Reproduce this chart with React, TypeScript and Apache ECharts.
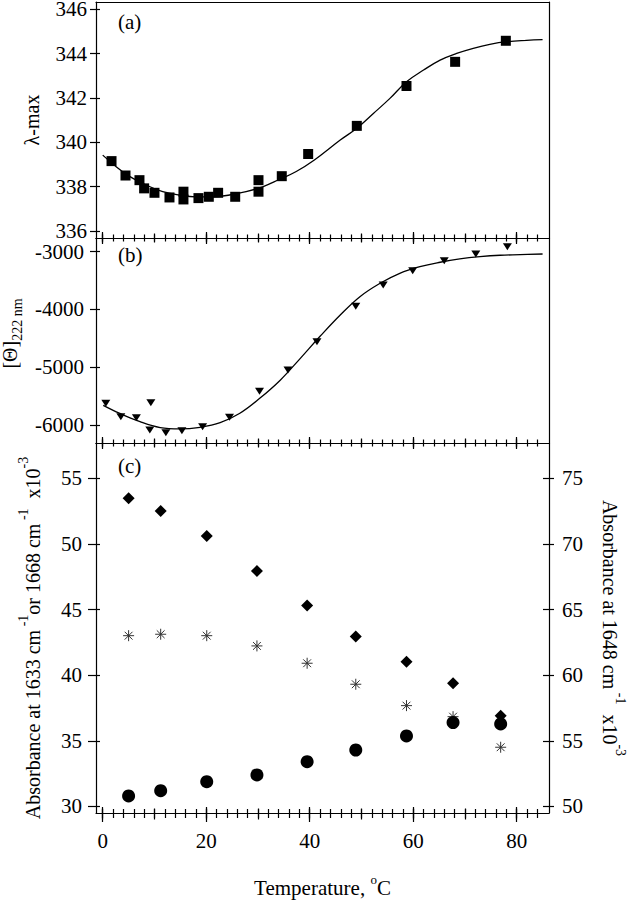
import React, { useEffect, useRef } from 'react';
import * as echarts from 'echarts';

// ---------- data ----------
// panel (a): lambda-max vs temperature
const tempA = [1.7, 4.4, 7.1, 8.0, 10.0, 12.9, 15.6, 15.6, 18.5, 20.5, 22.3, 25.6, 30.1, 30.1, 34.6, 39.7, 49.1, 58.7, 68.1, 77.9];
const lambdaA = [339.15, 338.5, 338.29, 337.92, 337.72, 337.51, 337.77, 337.42, 337.48, 337.54, 337.72, 337.54, 338.29, 337.77, 338.47, 339.47, 340.74, 342.54, 343.63, 344.58];
const fitTempA = [0, 2.6, 5.1, 8.4, 11.6, 14.8, 18.0, 21.3, 24.5, 27.7, 30.9, 34.1, 37.4, 40.9, 45.9, 49.1, 52.3, 55.5, 58.7, 62.0, 65.2, 68.4, 71.6, 74.8, 78.1, 81.9, 85.0];
const fitLambdaA = [339.42, 338.9, 338.47, 338.07, 337.77, 337.62, 337.54, 337.54, 337.62, 337.77, 337.99, 338.32, 338.68, 339.2, 340.1, 340.63, 341.3, 341.98, 342.73, 343.26, 343.71, 344.01, 344.24, 344.42, 344.54, 344.6, 344.63];

// panel (b): [Theta]222nm vs temperature
const tempB = [0.6, 3.5, 6.5, 9.3, 9.1, 12.2, 15.3, 19.3, 24.5, 30.3, 35.8, 41.4, 48.9, 54.2, 59.9, 66.0, 72.1, 78.2];
const thetaB = [-5624, -5856, -5873, -5614, -6087, -6133, -6098, -6029, -5867, -5417, -5048, -4558, -3946, -3577, -3329, -3156, -3040, -2913];
const fitTempB = [0.1, 3.3, 7.2, 11.1, 14.9, 18.8, 22.7, 26.5, 30.4, 34.3, 38.1, 42.0, 45.9, 49.7, 53.6, 57.4, 61.3, 65.2, 69.0, 72.9, 76.8, 80.7, 85.0];
const fitThetaB = [-5660, -5800, -5943, -6045, -6069, -6040, -5960, -5798, -5535, -5225, -4855, -4465, -4096, -3779, -3547, -3374, -3260, -3183, -3126, -3087, -3062, -3052, -3040];

// panel (c): absorbances vs temperature
const tempC = [5.0, 11.2, 20.1, 29.8, 39.5, 48.9, 58.7, 67.7, 76.9];
const abs1648 = [73.48, 72.51, 70.6, 67.94, 65.3, 62.94, 61.03, 59.39, 56.9]; // right axis, diamonds
const abs1668 = [43.01, 43.12, 43.01, 42.23, 40.91, 39.31, 37.68, 36.84, 34.51]; // left axis, asterisks
const abs1633 = [30.8, 31.2, 31.89, 32.4, 33.41, 34.3, 35.37, 36.39, 36.29]; // left axis, circles

// ticks
const xMinorTicks = [0, 2, 4, 6, 8, 10, 12, 14, 16, 18, 20, 22, 24, 26, 28, 30, 32, 34, 36, 38, 40, 42, 44, 46, 48, 50, 52, 54, 56, 58, 60, 62, 64, 66, 68, 70, 72, 74, 76, 78, 80, 82, 84];
const xMediumTicks = [0, 10, 20, 30, 40, 50, 60, 70, 80];
const xMajorTicks = [0, 20, 40, 60, 80];
const yTicksA = [336, 338, 340, 342, 344, 346];
const yTicksB = [-6000, -5000, -4000, -3000];
const yTicksCLeft = [30, 35, 40, 45, 50, 55];
const yTicksCRight = [50, 55, 60, 65, 70, 75];

const X_MIN = -1.3;
const X_MAX = 86.24;
const RANGE_A: [number, number] = [335.68, 346.33];
const RANGE_B: [number, number] = [-6312, -2763];
const RANGE_CL: [number, number] = [29.5, 57.69];
const RANGE_CR: [number, number] = [49.5, 77.69];

const FONT = '"Liberation Serif", "Times New Roman", serif';
const LEFT = 96;
const RIGHT = 78;
const PANELS = {
  a: { top: 2, height: 236 },
  b: { top: 238, height: 205 },
  c: { top: 443, height: 370 },
};
const LS = { color: '#000', width: 1.2 };
const STAR = 'path://M10 0V20M0 10H20M2.9 2.9L17.1 17.1M2.9 17.1L17.1 2.9';

const zip = (xs: number[], ys: number[]) => xs.map((x, i) => [x, ys[i]]);

const labelStyle = { fontFamily: FONT, fontSize: 21, lineHeight: 16, color: '#000' };
const titleStyle = { fontFamily: FONT, fontSize: 20, color: '#000' };
const richBase = {
  m: { fontFamily: FONT, fontSize: 20, lineHeight: 34, color: '#000' },
  p: { fontFamily: FONT, fontSize: 14, lineHeight: 14, verticalAlign: 'top', color: '#000' },
  s: { fontFamily: FONT, fontSize: 14, lineHeight: 14, verticalAlign: 'bottom', color: '#000' },
  n: { fontFamily: FONT, fontSize: 20, lineHeight: 28, color: '#000' },
  t: { fontFamily: FONT, fontSize: 21, lineHeight: 30, color: '#000' },
  q: { fontFamily: FONT, fontSize: 13, lineHeight: 13, verticalAlign: 'top', color: '#000' },
};
const plainNum = (v: number) => String(v);

function xAx(gridIndex: number, position: string, ticks: number[] | null, length: number, inside: boolean, showLine: boolean, extra: any = {}) {
  return {
    type: 'value', gridIndex, position, min: X_MIN, max: X_MAX,
    axisLine: { show: showLine, onZero: false, lineStyle: LS },
    axisTick: ticks ? { show: true, customValues: ticks, length, inside, lineStyle: LS } : { show: false },
    axisLabel: { show: false },
    splitLine: { show: false },
    ...extra,
  };
}

function yAx(gridIndex: number, position: string, range: [number, number], ticks: number[] | null, length: number, inside: boolean, showLine: boolean, extra: any = {}) {
  return {
    type: 'value', gridIndex, position, min: range[0], max: range[1],
    axisLine: { show: showLine, onZero: false, lineStyle: LS },
    axisTick: ticks ? { show: true, customValues: ticks, length, inside, lineStyle: LS } : { show: false },
    axisLabel: { show: false },
    splitLine: { show: false },
    ...extra,
  };
}

const hiddenY = (gridIndex: number) => ({ type: 'value', gridIndex, show: false, min: 0, max: 1 });

function buildOption() {
  const g = (p: { top: number; height: number }) => ({ left: LEFT, right: RIGHT, top: p.top, height: p.height, containLabel: false, outerBoundsMode: 'none' });
  const grid = [
    g(PANELS.a), g(PANELS.a), g(PANELS.a), // 0,1,2
    g(PANELS.b), g(PANELS.b), g(PANELS.b), // 3,4,5
    g(PANELS.c), g(PANELS.c), g(PANELS.c), g(PANELS.c), g(PANELS.c), g(PANELS.c), // 6..11
  ];

  const xAxis = [
    // A
    xAx(0, 'bottom', xMinorTicks, 3.5, false, true), // 0
    xAx(0, 'top', null, 0, false, true), // 1
    xAx(1, 'bottom', xMediumTicks, 4.5, false, false), // 2
    xAx(2, 'bottom', xMajorTicks, 6, false, false), // 3
    // B
    xAx(3, 'top', xMinorTicks, 3.5, false, true), // 4
    xAx(3, 'bottom', xMinorTicks, 3.5, false, true), // 5
    xAx(4, 'top', xMediumTicks, 4.5, false, false), // 6
    xAx(4, 'bottom', xMediumTicks, 4.5, false, false), // 7
    xAx(5, 'top', xMajorTicks, 6, false, false), // 8
    xAx(5, 'bottom', xMajorTicks, 6, false, false), // 9
    // C
    xAx(6, 'top', xMinorTicks, 3.5, false, true), // 10
    xAx(6, 'bottom', xMinorTicks, 5, false, true, {
      axisLabel: { show: true, customValues: xMajorTicks, margin: 20, formatter: plainNum, ...labelStyle },
      name: '{t|Temperature, }{q|o}{t|C}',
      nameLocation: 'middle',
      nameGap: 60,
      nameTextStyle: { ...titleStyle, rich: richBase },
    }), // 11
    xAx(7, 'top', xMediumTicks, 4.5, false, false), // 12
    xAx(7, 'bottom', xMediumTicks, 6.5, false, false), // 13
    xAx(8, 'top', xMajorTicks, 6, false, false), // 14
    xAx(8, 'bottom', xMajorTicks, 9, false, false), // 15
    xAx(9, 'bottom', xMinorTicks, 4, true, false), // 16
    xAx(10, 'bottom', xMediumTicks, 4.5, true, false), // 17
    xAx(11, 'bottom', xMajorTicks, 6, true, false), // 18
  ];

  const yAxis = [
    // A
    yAx(0, 'left', RANGE_A, yTicksA, 6, false, true, {
      axisLabel: { show: true, customValues: yTicksA, margin: 9, formatter: plainNum, ...labelStyle },
      name: 'λ-max', nameLocation: 'middle', nameRotate: 90, nameGap: 54,
      nameTextStyle: { ...titleStyle },
    }), // 0
    yAx(0, 'right', RANGE_A, null, 0, false, true), // 1
    yAx(1, 'left', RANGE_A, yTicksA, 4, true, false), // 2
    hiddenY(2), // 3
    // B
    yAx(3, 'left', RANGE_B, yTicksB, 6, false, true, {
      axisLabel: { show: true, customValues: yTicksB, margin: 12, formatter: plainNum, ...labelStyle },
      name: '{n|[Θ]}{s|222 nm}', nameLocation: 'middle', nameRotate: 90, nameGap: 64,
      nameTextStyle: { ...titleStyle, rich: richBase, padding: [0, 0, 0, 14] },
    }), // 4
    yAx(3, 'right', RANGE_B, null, 0, false, true), // 5
    yAx(4, 'left', RANGE_B, yTicksB, 4, true, false), // 6
    hiddenY(5), // 7
    // C
    yAx(6, 'left', RANGE_CL, yTicksCLeft, 8, false, true, {
      axisLabel: { show: true, customValues: yTicksCLeft, margin: 14, formatter: plainNum, ...labelStyle },
      name: '{m|Absorbance at 1633 cm}{p| -1}{m|or 1668 cm}{p| -1}{m|  x10}{p|-3}',
      nameLocation: 'middle', nameRotate: 90, nameGap: 46,
      nameTextStyle: { ...titleStyle, rich: richBase, padding: [0, 20, 0, 0] },
    }), // 8
    yAx(6, 'right', RANGE_CR, yTicksCRight, 5, false, true, {
      axisLabel: { show: true, customValues: yTicksCRight, margin: 13, formatter: plainNum, ...labelStyle },
      name: '{m|Absorbance at 1648 cm}{p| -1}{m|  x10}{p|-3}',
      nameLocation: 'middle', nameRotate: -90, nameGap: 44,
      nameTextStyle: { ...titleStyle, rich: richBase },
    }), // 9
    yAx(7, 'left', RANGE_CL, yTicksCLeft, 4, true, false), // 10
    yAx(7, 'right', RANGE_CR, yTicksCRight, 6, true, false), // 11
    hiddenY(8), hiddenY(9), hiddenY(10), hiddenY(11), // 12..15
  ];

  const fitLine = { color: '#000', width: 1.3 };
  const solid = (color: string) => ({ color, opacity: 1 });
  const series: any[] = [
    { type: 'line', xAxisIndex: 0, yAxisIndex: 0, data: zip(fitTempA, fitLambdaA), showSymbol: false, smooth: 0.4, lineStyle: fitLine, silent: true, z: 2 },
    { type: 'scatter', xAxisIndex: 0, yAxisIndex: 0, data: zip(tempA, lambdaA), symbol: 'rect', symbolSize: 10, itemStyle: solid('#000'), z: 3 },
    { type: 'line', xAxisIndex: 4, yAxisIndex: 4, data: zip(fitTempB, fitThetaB), showSymbol: false, smooth: 0.4, lineStyle: fitLine, silent: true, z: 2 },
    { type: 'scatter', xAxisIndex: 4, yAxisIndex: 4, data: zip(tempB, thetaB), symbol: 'triangle', symbolRotate: 180, symbolSize: [9, 7], itemStyle: solid('#000'), z: 3 },
    { type: 'scatter', xAxisIndex: 11, yAxisIndex: 9, data: zip(tempC, abs1648), symbol: 'diamond', symbolSize: 12, itemStyle: solid('#000'), z: 3 },
    { type: 'scatter', xAxisIndex: 11, yAxisIndex: 8, data: zip(tempC, abs1668), symbol: STAR, symbolSize: 11, itemStyle: { color: 'none', borderColor: '#333', borderWidth: 1, opacity: 1 }, z: 3 },
    { type: 'scatter', xAxisIndex: 11, yAxisIndex: 8, data: zip(tempC, abs1633), symbol: 'circle', symbolSize: 13, itemStyle: solid('#000'), z: 4 },
  ];

  const panelLabel = (text: string, top: number) => ({
    type: 'text', left: 118, top, style: { text, font: `21px ${FONT}`, fill: '#000' },
  });

  return {
    animation: false,
    backgroundColor: '#fff',
    grid, xAxis, yAxis, series,
    graphic: [panelLabel('(a)', 11), panelLabel('(b)', 244), panelLabel('(c)', 455)],
  };
}

export default function App() {
  const ref = useRef<HTMLDivElement>(null);
  useEffect(() => {
    const chart = echarts.init(ref.current!, null, { renderer: 'svg' });
    chart.setOption(buildOption() as any);
    return () => chart.dispose();
  }, []);
  return <div ref={ref} style={{ position: 'fixed', left: 0, top: 0, width: 627, height: 900, background: '#fff' }} />;
}
